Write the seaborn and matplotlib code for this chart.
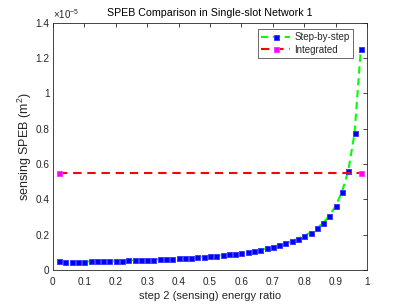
import numpy as np
import pandas as pd
import seaborn as sns
from matplotlib import pyplot as plt
import matplotlib.ticker as ticker

# energy ratio for step 2 (sensing)
ratio = [0.02, 0.04, 0.06, 0.08, 0.10, 0.12, 0.14, 0.16, 0.18, 0.20,
         0.22, 0.24, 0.26, 0.28, 0.30, 0.32, 0.34, 0.36, 0.38, 0.40,
         0.42, 0.44, 0.46, 0.48, 0.50, 0.52, 0.54, 0.56, 0.58, 0.60,
         0.62, 0.64, 0.66, 0.68, 0.70, 0.72, 0.74, 0.76, 0.78, 0.80,
         0.82, 0.84, 0.86, 0.88, 0.90, 0.92, 0.94, 0.96, 0.98]

# sensing SPEB, in units of 1e-5 m^2
speb_step = [0.052, 0.045, 0.045, 0.046, 0.047, 0.048, 0.049, 0.050, 0.051, 0.052,
             0.053, 0.054, 0.055, 0.057, 0.058, 0.059, 0.061, 0.062, 0.064, 0.066,
             0.068, 0.070, 0.072, 0.075, 0.078, 0.081, 0.084, 0.088, 0.092, 0.097,
             0.102, 0.108, 0.115, 0.122, 0.131, 0.140, 0.151, 0.163, 0.177, 0.193,
             0.212, 0.236, 0.266, 0.307, 0.363, 0.443, 0.561, 0.774, 1.252]

ratio_int = [0.02, 0.98]
speb_int = [0.547, 0.547]

sns.set_style("white")
plt.rcParams["font.family"] = ["Liberation Sans", "DejaVu Sans"]
plt.rcParams["mathtext.fontset"] = "custom"
plt.rcParams["mathtext.rm"] = "Liberation Sans"

step = pd.DataFrame({"ratio": ratio, "speb": speb_step})
integ = pd.DataFrame({"ratio": ratio_int, "speb": speb_int})

fig = plt.figure(figsize=(4.07, 3.05), dpi=100)
ax = fig.add_axes([0.13, 0.115, 0.772, 0.81])

sns.lineplot(data=step, x="ratio", y="speb", ax=ax, color="#00ff00", lw=1.5,
             dashes=False, linestyle=(0, (3.5, 2.2)), marker="s", markersize=3.6,
             markerfacecolor="#0000ff", markeredgecolor="#3c3cff",
             markeredgewidth=0.7, label="Step-by-step")
sns.lineplot(data=integ, x="ratio", y="speb", ax=ax, color="#ff0000", lw=1.5,
             dashes=False, linestyle=(0, (4, 2.8)), marker="s", markersize=3.6,
             markerfacecolor="#ff00ff", markeredgecolor="#ff3cff",
             markeredgewidth=0.7, label="Integrated")

ax.set_xlim(0, 1)
ax.set_ylim(0, 1.4)
ax.set_xticks(np.arange(0, 1.01, 0.1))
ax.set_yticks(np.arange(0, 1.41, 0.2))
fmt = ticker.FuncFormatter(lambda v, _: f"{v:g}")
ax.xaxis.set_major_formatter(fmt)
ax.yaxis.set_major_formatter(fmt)
ax.tick_params(direction="in", top=True, right=True, length=3, width=0.6,
               labelsize=7.2, colors="#262626")
ax.tick_params(axis="x", pad=5)
ax.tick_params(axis="y", pad=2.5)
for s in ax.spines.values():
    s.set_linewidth(0.6)
    s.set_color("#262626")

ax.text(0.0, 1.006, r"$\times10^{-5}$", transform=ax.transAxes, fontsize=7,
        ha="left", va="bottom", color="#262626")
ax.set_xlabel("step 2 (sensing) energy ratio", fontsize=8, color="#262626", labelpad=3)
ax.set_ylabel(r"sensing SPEB (m$^2$)", fontsize=9, color="#262626", labelpad=1)
ax.set_title("SPEB Comparison in Single-slot Network 1", fontsize=7.7, color="black", pad=5)

leg = ax.legend(loc="upper right", fontsize=7, frameon=True, fancybox=False,
                borderpad=0.35, handlelength=3.0, handletextpad=0.4,
                labelspacing=0.25, borderaxespad=0.0,
                bbox_to_anchor=(0.955, 0.975))
leg.get_frame().set_edgecolor("#262626")
leg.get_frame().set_linewidth(0.6)

fig.savefig("out.png", dpi=100)
